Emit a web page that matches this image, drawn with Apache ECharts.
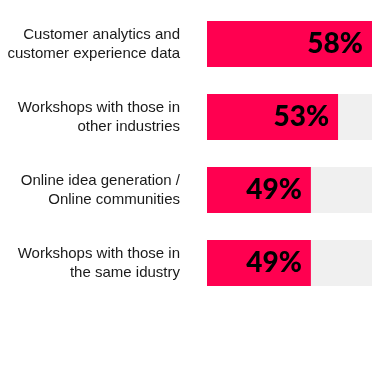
<!DOCTYPE html>
<html>
<head>
<meta charset="utf-8">
<script src="https://cdn.jsdelivr.net/npm/echarts@6/dist/echarts.min.js"></script>
<style>
  html, body { margin: 0; padding: 0; background: #ffffff; }
  #chart { width: 380px; height: 380px; }
</style>
</head>
<body>
<div id="chart"></div>
<script>
// Survey answers, top to bottom
const categories = [
  'Customer analytics and\ncustomer experience data',
  'Workshops with those in\nother industries',
  'Online idea generation /\nOnline communities',
  'Workshops with those in\nthe same idustry'
];
const shares = [58, 53, 49, 49];

// Visible value range of the horizontal scale
const axisMin = 33.7;
const axisMax = 58;

const chart = echarts.init(document.getElementById('chart'), null, { renderer: 'canvas' });

chart.setOption({
  animation: false,
  backgroundColor: '#ffffff',
  grid: { left: 207, right: 8, top: 7.5, height: 292, containLabel: false },
  xAxis: {
    type: 'value',
    min: axisMin,
    max: axisMax,
    show: false
  },
  yAxis: {
    type: 'category',
    data: categories,
    inverse: true,
    axisLine: { show: false },
    axisTick: { show: false },
    axisLabel: {
      margin: 27,
      color: '#1a1a1a',
      fontFamily: 'Liberation Sans, Arial, sans-serif',
      fontSize: 15,
      lineHeight: 19,
      align: 'right'
    }
  },
  series: [{
    type: 'bar',
    data: shares,
    barWidth: 46,
    showBackground: true,
    backgroundStyle: { color: '#f0f0f0' },
    itemStyle: { color: '#ff0050' },
    label: {
      show: true,
      position: 'insideRight',
      distance: 9,
      formatter: '{c}%',
      color: '#000000',
      fontFamily: 'Lato',
      fontWeight: 900,
      fontSize: 28
    }
  }]
});
</script>
</body>
</html>
